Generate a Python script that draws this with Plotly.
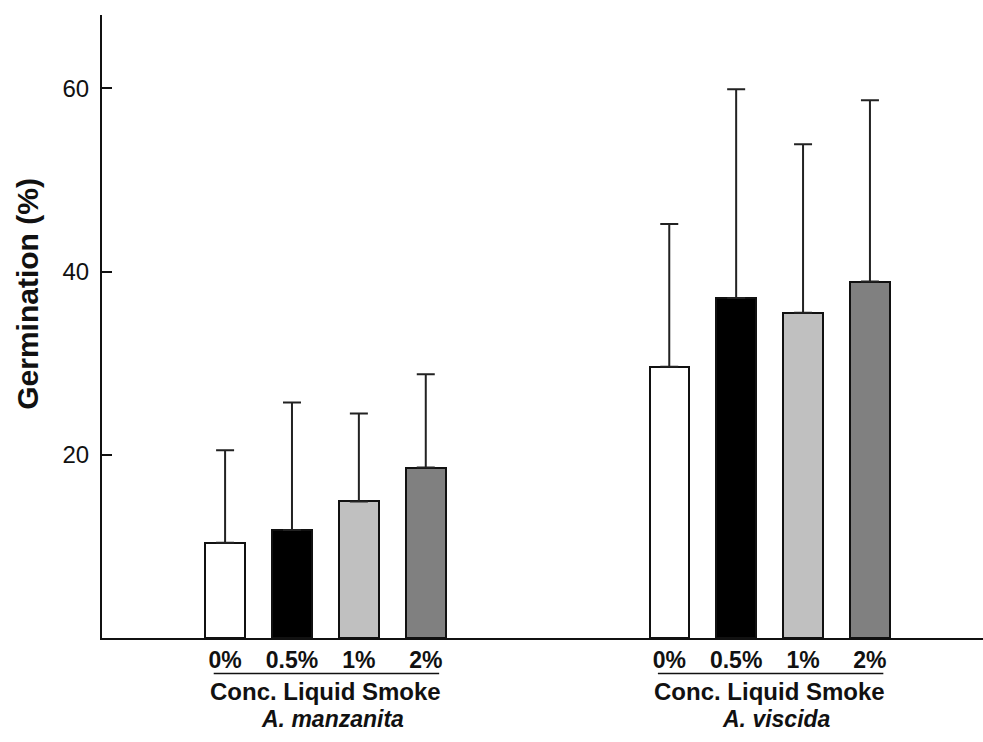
import plotly.graph_objects as go

# ---- data ----
species = ["A. manzanita", "A. viscida"]
concentrations = ["0%", "0.5%", "1%", "2%"]
manzanita_mean = [10.4, 11.8, 14.9, 18.6]
manzanita_upper = [20.5, 25.7, 24.5, 28.8]
viscida_mean = [29.6, 37.1, 35.5, 38.9]
viscida_upper = [45.2, 59.9, 53.9, 58.7]
y_ticks = [20, 40, 60]

bar_colors = ["#ffffff", "#000000", "#c0c0c0", "#808080"]
group_offset = 6.64
FONT = "Liberation Sans, Arial, sans-serif"

means = [manzanita_mean, viscida_mean]
uppers = [manzanita_upper, viscida_upper]

fig = go.Figure()
xs_all, labels_all = [], []
for g, sp in enumerate(species):
    xs = [i + g * group_offset for i in range(len(concentrations))]
    xs_all += xs
    labels_all += ["<b>%s</b>" % c for c in concentrations]
    fig.add_trace(go.Bar(
        x=xs, y=means[g], width=0.59,
        marker=dict(color=bar_colors, line=dict(color="#111111", width=2)),
        error_y=dict(type="data", symmetric=False,
                     array=[u - m for u, m in zip(uppers[g], means[g])],
                     arrayminus=[0] * len(means[g]),
                     color="#222222", thickness=2, width=9),
        showlegend=False,
    ))
    # group underline
    fig.add_shape(type="line", xref="x", yref="paper",
                  x0=xs[0] - 0.17, x1=xs[-1] + 0.2, y0=-0.057, y1=-0.057,
                  line=dict(color="#111111", width=1.5))
    center = (xs[0] + xs[-1]) / 2
    fig.add_annotation(x=center, y=-0.0858, xref="x", yref="paper",
                       text="<b>Conc. Liquid Smoke</b>", showarrow=False,
                       yanchor="middle", font=dict(family=FONT, size=24, color="#111111"))
    fig.add_annotation(x=center + 0.1, y=-0.1307, xref="x", yref="paper",
                       text="<b><i>%s</i></b>" % sp, showarrow=False,
                       yanchor="middle", font=dict(family=FONT, size=23, color="#111111"))

fig.add_annotation(x=-0.084, y=0.5525, xref="paper", yref="paper",
                   text="<b>Germination (%)</b>", textangle=-90, showarrow=False,
                   xanchor="center", yanchor="middle",
                   font=dict(family=FONT, size=30, color="#111111"))

fig.update_layout(
    width=983, height=742,
    margin=dict(l=102, r=0, t=15, b=103.5),
    paper_bgcolor="white", plot_bgcolor="white",
    bargap=0,
    font=dict(family=FONT, color="#111111"),
    xaxis=dict(range=[-1.84, 11.33], showline=True, linecolor="#111111", linewidth=2,
               showgrid=False, zeroline=False, ticks="",
               tickvals=xs_all, ticktext=labels_all,
               tickfont=dict(family=FONT, size=23, color="#111111")),
    yaxis=dict(range=[0, 68], showline=True, linecolor="#111111", linewidth=2,
               showgrid=False, zeroline=False, ticks="inside", ticklen=10,
               tickwidth=2, tickcolor="#111111", tickvals=y_ticks,
               ticklabelstandoff=6,
               tickfont=dict(family=FONT, size=24, color="#111111")),
)

fig.write_html("out.html")
